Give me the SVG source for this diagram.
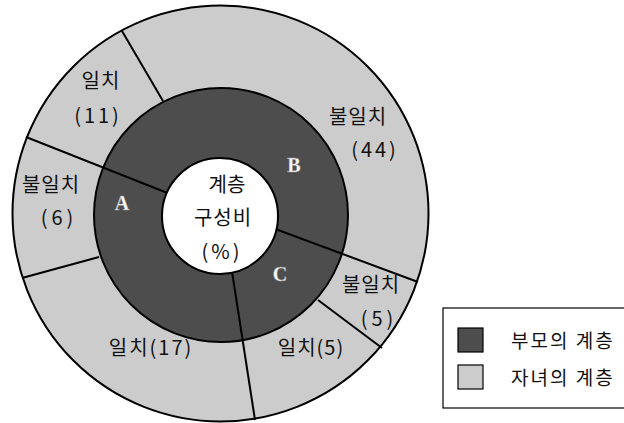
<svg xmlns="http://www.w3.org/2000/svg" width="624" height="423" viewBox="0 0 624 423">
<style>
.lbl{font-family:"Noto Sans CJK KR","Noto Sans",sans-serif;font-size:20px;fill:#111;text-anchor:middle}
.let{font-family:"Liberation Serif",serif;font-weight:bold;font-size:20px;fill:#fff;stroke:#999;stroke-width:0.5;text-anchor:middle}
.ln{stroke:#000;stroke-width:2;fill:none}
</style>
<rect width="624" height="423" fill="#fff"/>
<g id="outer-ring"><circle cx="220.5" cy="213.5" r="208" fill="#cccccc" stroke="#000" stroke-width="2"/></g>
<g id="connectors">
<line class="ln" x1="163" y1="101" x2="122" y2="31"/>
<line class="ln" x1="99" y1="257" x2="22" y2="278"/>
<line class="ln" x1="318" y1="300" x2="382" y2="348"/>
</g>
<g id="parent-ring"><circle cx="221" cy="215" r="127" fill="#4d4d4d" stroke="#000" stroke-width="2"/></g>
<g id="dividers">
<line class="ln" x1="170" y1="194" x2="26" y2="137"/>
<line class="ln" x1="231" y1="265" x2="255" y2="420"/>
<line class="ln" x1="270" y1="227" x2="418" y2="282"/>
</g>
<g id="center"><circle cx="220" cy="216" r="58" fill="#fff" stroke="#000" stroke-width="2"/>
<text class="lbl" x="227" y="192">계층</text>
<text class="lbl" x="223" y="225" letter-spacing="1">구성비</text>
<text class="lbl" x="222" y="259" letter-spacing="3">(%)</text>
</g>
<g id="A"><text class="let" x="122" y="210">A</text></g>
<g id="B"><text class="let" x="294" y="172">B</text></g>
<g id="C"><text class="let" x="280" y="281">C</text></g>
<g id="A-match"><text class="lbl" x="101" y="88" letter-spacing="1">일치</text><text class="lbl" x="98" y="123" letter-spacing="3">(11)</text></g>
<g id="A-mismatch"><text class="lbl" x="51" y="192" letter-spacing="1">불일치</text><text class="lbl" x="59" y="225" letter-spacing="4">(6)</text></g>
<g id="B-mismatch"><text class="lbl" x="358" y="124" letter-spacing="1">불일치</text><text class="lbl" x="375" y="157" letter-spacing="3">(44)</text></g>
<g id="C-mismatch"><text class="lbl" x="371" y="292" letter-spacing="1">불일치</text><text class="lbl" x="379" y="326" letter-spacing="4">(5)</text></g>
<g id="A-match17"><text class="lbl" x="151" y="355" letter-spacing="2">일치(17)</text></g>
<g id="C-match"><text class="lbl" x="311" y="355" letter-spacing="1">일치(5)</text></g>
<g id="legend">
<rect x="443" y="308" width="200" height="100" fill="#fff" stroke="#000" stroke-width="1.2"/>
<rect x="458" y="328" width="25" height="24" fill="#4d4d4d" stroke="#000" stroke-width="1.2"/>
<rect x="458" y="365" width="25" height="24" fill="#cccccc" stroke="#000" stroke-width="1.2"/>
<text class="lbl" x="511" y="348" style="text-anchor:start;font-size:19px" letter-spacing="2">부모의 계층</text>
<text class="lbl" x="511" y="385" style="text-anchor:start;font-size:19px" letter-spacing="2">자녀의 계층</text>
</g>
</svg>
